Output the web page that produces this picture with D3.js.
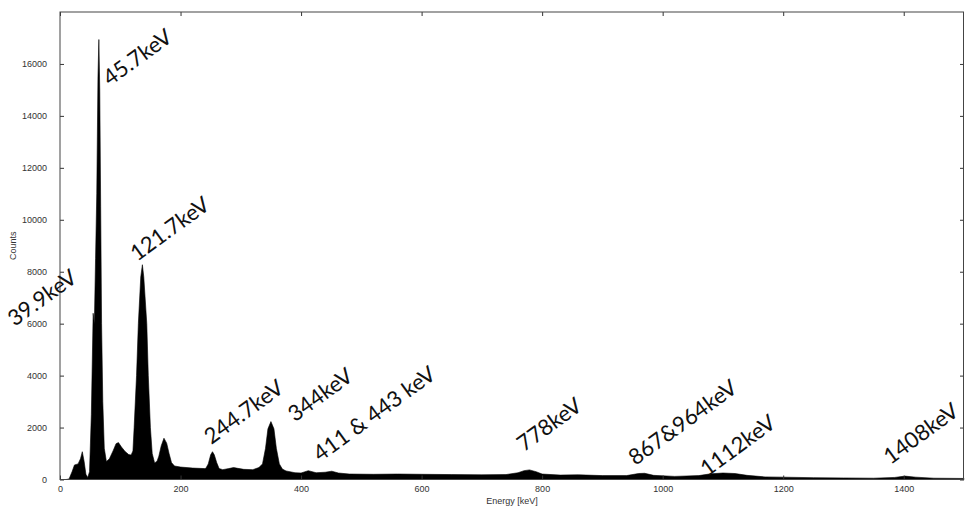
<!DOCTYPE html>
<html>
<head>
<meta charset="utf-8">
<script src="https://cdn.jsdelivr.net/npm/d3@7"></script>
<style>
  body { margin: 0; background: #fff; }
  svg { display: block; }
</style>
</head>
<body>
<div id="chart"></div>
<script>
// spectrum knots (energy in keV, counts)
const energy = [
  0, 10, 15, 20, 24, 30, 34, 37, 40, 43, 46, 49, 52, 55, 57, 59, 61, 63, 64.5, 66,
  67.5, 69, 71, 73.5, 77, 82, 88, 93, 97, 102, 108, 114, 118, 121, 123, 127, 130, 134, 136.7, 139,
  144, 146.5, 150, 153, 157, 161, 164, 168, 172.5, 177, 181, 185, 190, 200, 220, 240, 242, 246, 250, 253,
  256, 260, 264, 270, 280, 288, 295, 305, 320, 330, 336, 341, 345, 350, 355, 359, 364, 369, 375, 390,
  400, 412, 425, 440, 451, 462, 480, 520, 560, 600, 650, 700, 740, 760, 770, 779, 790, 800, 830, 860,
  900, 940, 960, 970, 985, 1020, 1060, 1080, 1100, 1120, 1140, 1170, 1200, 1250, 1300, 1350, 1385, 1402, 1420, 1450,
  1500
]
const counts = [
  0, 0, 20, 300, 560, 600, 800, 1070, 700, 200, 80, 300, 2500, 6400, 6000, 8500, 11000, 15500, 16940, 15000,
  10500, 6000, 3000, 1200, 690, 800, 1100, 1380, 1420, 1250, 1080, 960, 940, 1100, 2000, 4000, 6000, 7800, 8270, 7800,
  6000, 4000, 2000, 1000, 640, 700, 900, 1300, 1590, 1400, 1000, 650, 520, 480, 440, 420, 430, 600, 950, 1070,
  950, 650, 420, 380, 420, 460, 430, 390, 380, 460, 600, 1200, 1950, 2230, 1950, 1200, 600, 400, 330, 260,
  250, 340, 260, 280, 320, 250, 210, 200, 210, 200, 190, 180, 190, 260, 340, 370, 300, 210, 170, 180,
  150, 150, 230, 240, 160, 120, 150, 220, 250, 230, 160, 100, 90, 70, 60, 50, 80, 130, 90, 50,
  40
]

// peak annotations, anchored in data coordinates
const labelText = ['39.9keV', '45.7keV', '121.7keV', '244.7keV', '344keV', '411 & 443 keV',
  '778keV', '867&964keV', '1112keV', '1408keV']
const labelEnergy = [-75, 83, 128, 251, 390, 432, 770, 955, 1074, 1378]
const labelCount = [5870, 15130, 8380, 1330, 2190, 660, 1050, 520, 100, 560]

const xTicks = [0, 200, 400, 600, 800, 1000, 1200, 1400]
const yTicks = [0, 2000, 4000, 6000, 8000, 10000, 12000, 14000, 16000]

const width = 966
const height = 509
const margin = { top: 12, right: 2, bottom: 29, left: 60 }

const data = energy.map((e, i) => ({ e: e, c: counts[i] }))

const x = d3.scaleLinear().domain([0, 1500]).range([margin.left, width - margin.right])
const y = d3.scaleLinear().domain([0, 18000]).range([height - margin.bottom - 0.5, margin.top])

const svg = d3
  .select('#chart')
  .append('svg')
  .attr('width', width)
  .attr('height', height)
  .attr('viewBox', [0, 0, width, height])

svg
  .append('path')
  .datum(data)
  .attr('fill', '#000')
  .attr('stroke', '#000')
  .attr('stroke-width', 0.6)
  .attr('d', d3.area().x((d) => x(d.e)).y0(y(0)).y1((d) => y(d.c)))

const tickFont = (g) =>
  g
    .call((g) => g.select('.domain').remove())
    .selectAll('text')
    .attr('font-family', 'Liberation Sans, Arial, sans-serif')
    .attr('font-size', 9)
    .attr('fill', '#333')

// bottom axis, ticks pointing inwards
svg
  .append('g')
  .attr('transform', `translate(0,${y(0)})`)
  .call(d3.axisBottom(x).tickValues(xTicks).tickSize(-4).tickPadding(6).tickFormat(d3.format('d')))
  .call(tickFont)
svg
  .append('g')
  .attr('transform', `translate(0,${margin.top})`)
  .call(d3.axisTop(x).tickValues(xTicks).tickSize(-4).tickFormat(''))
  .call((g) => g.select('.domain').remove())

// left axis
svg
  .append('g')
  .attr('transform', `translate(${margin.left},0)`)
  .call(d3.axisLeft(y).tickValues(yTicks).tickSize(-4).tickPadding(13).tickFormat(d3.format('d')))
  .call(tickFont)
svg
  .append('g')
  .attr('transform', `translate(${width - margin.right},0)`)
  .call(d3.axisRight(y).tickValues(yTicks).tickSize(-4).tickFormat(''))
  .call((g) => g.select('.domain').remove())

svg.selectAll('.tick line').attr('stroke', '#333')

// frame
svg
  .append('rect')
  .attr('x', margin.left)
  .attr('y', margin.top)
  .attr('width', width - margin.left - margin.right - 0.5)
  .attr('height', y(0) - margin.top)
  .attr('fill', 'none')
  .attr('stroke', '#444')
  .attr('stroke-width', 1)

svg
  .append('text')
  .attr('x', (margin.left + width - margin.right) / 2)
  .attr('y', 504)
  .attr('text-anchor', 'middle')
  .attr('font-family', 'Liberation Sans, Arial, sans-serif')
  .attr('font-size', 9)
  .attr('fill', '#333')
  .text('Energy [keV]')

svg
  .append('text')
  .attr('transform', `translate(16,${(margin.top + y(0)) / 2}) rotate(-90)`)
  .attr('text-anchor', 'middle')
  .attr('font-family', 'Liberation Sans, Arial, sans-serif')
  .attr('font-size', 9)
  .attr('fill', '#333')
  .text('Counts')

svg
  .append('g')
  .selectAll('text')
  .data(labelText)
  .join('text')
  .attr('transform', (d, i) => `translate(${x(labelEnergy[i])},${y(labelCount[i])}) rotate(-36)`)
  .attr('font-family', 'Lato, sans-serif')
  .attr('font-size', 22)
  .attr('fill', '#111')
  .text((d) => d)
</script>
</body>
</html>
